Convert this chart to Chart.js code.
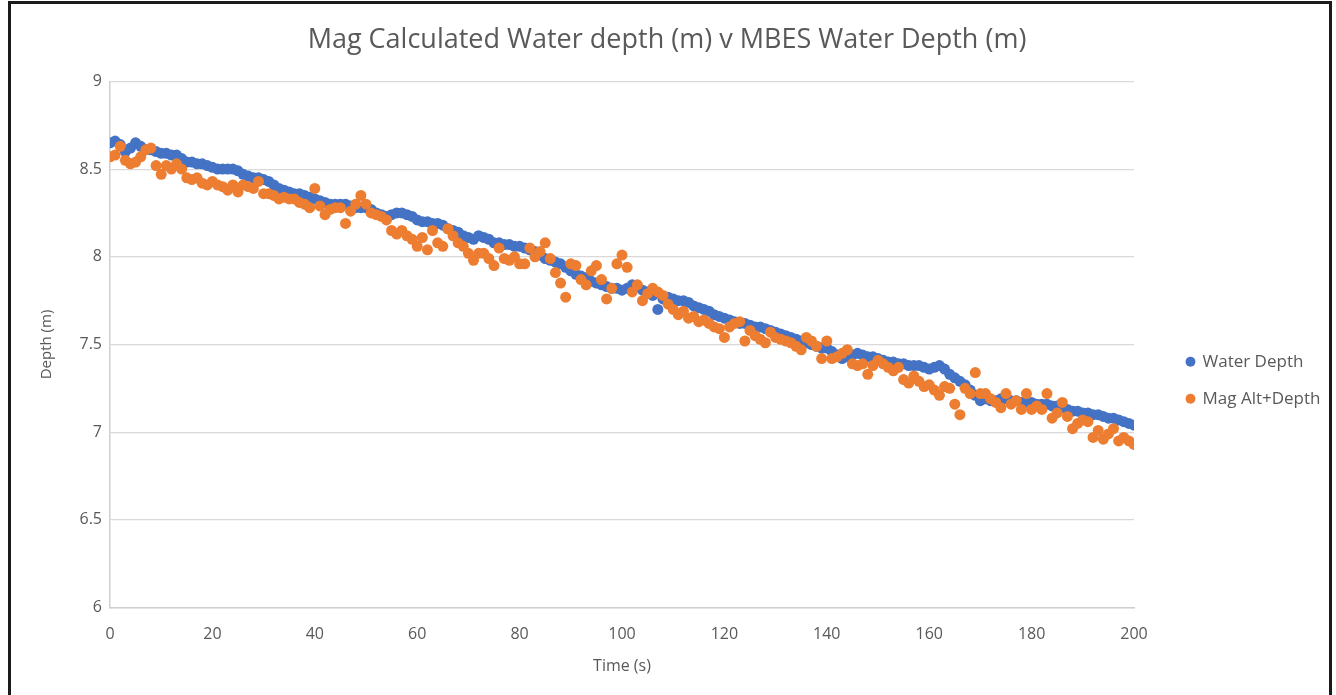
<!DOCTYPE html>
<html>
<head>
<meta charset="utf-8">
<script src="https://cdn.jsdelivr.net/npm/chart.js@4.4.1/dist/chart.umd.min.js"></script>
<style>
  html, body { margin: 0; padding: 0; background: #fff; }
  #wrap { width: 1336px; height: 695px; }
</style>
</head>
<body>
<div id="wrap"><canvas id="chart" width="1336" height="695"></canvas></div>
<script>
// --- Data ---
const chartTitle = 'Mag Calculated Water depth (m) v MBES Water Depth (m)';
const seriesNames = ['Water Depth', 'Mag Alt+Depth'];
const xTicks = [0, 20, 40, 60, 80, 100, 120, 140, 160, 180, 200];
const yTicks = [6, 6.5, 7, 7.5, 8, 8.5, 9];

// one reading per second, t = 0 .. 200
const waterDepth = [
  8.65, 8.66, 8.64, 8.60, 8.62, 8.65, 8.63, 8.61, 8.61, 8.60,
  8.59, 8.59, 8.58, 8.58, 8.56, 8.54, 8.54, 8.53, 8.53, 8.52,
  8.51, 8.50, 8.50, 8.50, 8.50, 8.49, 8.47, 8.46, 8.45, 8.45,
  8.44, 8.43, 8.41, 8.39, 8.38, 8.37, 8.36, 8.36, 8.35, 8.34,
  8.33, 8.32, 8.31, 8.30, 8.30, 8.30, 8.30, 8.29, 8.28, 8.28,
  8.28, 8.27, 8.25, 8.24, 8.23, 8.24, 8.25, 8.25, 8.24, 8.23,
  8.21, 8.20, 8.20, 8.19, 8.19, 8.18, 8.16, 8.15, 8.14, 8.12,
  8.11, 8.10, 8.12, 8.11, 8.10, 8.08, 8.08, 8.07, 8.07, 8.06,
  8.06, 8.05, 8.04, 8.03, 8.01, 7.99, 7.98, 7.97, 7.96, 7.94,
  7.92, 7.90, 7.89, 7.88, 7.86, 7.85, 7.84, 7.83, 7.82, 7.82,
  7.81, 7.82, 7.84, 7.83, 7.81, 7.80, 7.78, 7.70, 7.76, 7.77,
  7.76, 7.75, 7.75, 7.74, 7.72, 7.71, 7.70, 7.69, 7.67, 7.66,
  7.65, 7.64, 7.63, 7.62, 7.62, 7.61, 7.60, 7.60, 7.59, 7.58,
  7.57, 7.56, 7.55, 7.54, 7.53, 7.52, 7.51, 7.50, 7.49, 7.48,
  7.48, 7.46, 7.44, 7.42, 7.43, 7.44, 7.45, 7.44, 7.43, 7.43,
  7.42, 7.41, 7.40, 7.40, 7.39, 7.39, 7.38, 7.38, 7.38, 7.37,
  7.36, 7.37, 7.38, 7.36, 7.33, 7.31, 7.29, 7.27, 7.24, 7.21,
  7.18, 7.19, 7.18, 7.18, 7.19, 7.19, 7.18, 7.18, 7.17, 7.17,
  7.17, 7.16, 7.16, 7.16, 7.15, 7.15, 7.14, 7.13, 7.12, 7.12,
  7.11, 7.11, 7.10, 7.10, 7.09, 7.08, 7.08, 7.07, 7.06, 7.05,
  7.04
];

const magAltDepth = [
  8.57, 8.58, 8.63, 8.55, 8.53, 8.54, 8.57, 8.61, 8.62, 8.52,
  8.47, 8.52, 8.50, 8.53, 8.50, 8.45, 8.44, 8.45, 8.42, 8.41,
  8.43, 8.41, 8.40, 8.38, 8.41, 8.37, 8.41, 8.40, 8.39, 8.43,
  8.36, 8.36, 8.35, 8.33, 8.34, 8.33, 8.33, 8.31, 8.30, 8.28,
  8.39, 8.29, 8.24, 8.27, 8.28, 8.28, 8.19, 8.26, 8.30, 8.35,
  8.30, 8.25, 8.24, 8.23, 8.21, 8.15, 8.13, 8.15, 8.12, 8.10,
  8.06, 8.11, 8.04, 8.15, 8.08, 8.06, 8.16, 8.12, 8.08, 8.06,
  8.02, 7.98, 8.02, 8.02, 7.99, 7.95, 8.05, 7.99, 7.98, 8.00,
  7.96, 7.96, 8.05, 8.00, 8.03, 8.08, 7.99, 7.91, 7.85, 7.77,
  7.96, 7.95, 7.87, 7.84, 7.92, 7.95, 7.87, 7.76, 7.82, 7.96,
  8.01, 7.94, 7.80, 7.84, 7.75, 7.79, 7.82, 7.80, 7.78, 7.73,
  7.70, 7.67, 7.69, 7.65, 7.66, 7.63, 7.64, 7.62, 7.60, 7.59,
  7.54, 7.60, 7.62, 7.63, 7.52, 7.58, 7.55, 7.53, 7.51, 7.57,
  7.54, 7.53, 7.52, 7.51, 7.49, 7.47, 7.54, 7.52, 7.49, 7.42,
  7.52, 7.42, 7.43, 7.45, 7.47, 7.39, 7.38, 7.39, 7.33, 7.38,
  7.41, 7.39, 7.37, 7.35, 7.37, 7.30, 7.28, 7.32, 7.29, 7.26,
  7.27, 7.24, 7.21, 7.26, 7.25, 7.16, 7.10, 7.25, 7.22, 7.34,
  7.22, 7.22, 7.19, 7.17, 7.14, 7.22, 7.16, 7.18, 7.13, 7.22,
  7.13, 7.15, 7.13, 7.22, 7.08, 7.11, 7.17, 7.09, 7.02, 7.05,
  7.07, 7.06, 6.97, 7.01, 6.96, 6.99, 7.02, 6.95, 6.97, 6.95,
  6.93
];

// --- Helpers ---
const toPoints = arr => arr.map((v, i) => ({ x: i, y: v }));
const textGrey = '#595959';
const fontFamily = '"Open Sans", "DejaVu Sans", sans-serif';

// white background + dark frame around the picture
const framePlugin = {
  id: 'frame',
  beforeDraw(chart) {
    const c = chart.ctx;
    c.save();
    c.fillStyle = '#fff';
    c.fillRect(0, 0, chart.width, chart.height);
    c.restore();
  },
  afterDraw(chart) {
    const c = chart.ctx;
    c.save();
    c.strokeStyle = '#1a1a1a';
    c.lineWidth = 3;
    c.beginPath();
    c.moveTo(9.5, chart.height);
    c.lineTo(9.5, 2.5);
    c.lineTo(1330.5, 2.5);
    c.lineTo(1330.5, chart.height);
    c.stroke();
    c.restore();
  }
};

// fixed legend width so the plot ends where the original does,
// then nudge the legend block right a little
const legendPlacePlugin = {
  id: 'legendPlace',
  afterInit(chart) {
    const lg = chart.legend;
    if (!lg) return;
    const fit = lg.fit;
    lg.fit = function () {
      fit.call(this);
      this.width = 190;
    };
  },
  afterLayout(chart) {
    const lg = chart.legend;
    if (!lg) return;
    lg.left += 33;
    lg.right += 33;
  }
};

// --- Chart ---
const ctx = document.getElementById('chart').getContext('2d');
const chart = new Chart(ctx, {
  type: 'scatter',
  data: {
    datasets: [
      {
        label: seriesNames[0],
        data: toPoints(waterDepth),
        backgroundColor: '#4472C4',
        borderColor: '#4472C4',
        pointRadius: 5.5,
        pointBorderWidth: 0,
        order: 2
      },
      {
        label: seriesNames[1],
        data: toPoints(magAltDepth),
        backgroundColor: '#ED7D31',
        borderColor: '#ED7D31',
        pointRadius: 5.5,
        pointBorderWidth: 0,
        order: 1
      }
    ]
  },
  options: {
    responsive: false,
    animation: false,
    layout: { padding: { left: 10, right: 12, top: 10, bottom: 19 } },
    plugins: {
      title: {
        display: true,
        text: chartTitle,
        color: textGrey,
        font: { family: fontFamily, size: 27, weight: 'normal' },
        padding: { top: 14, bottom: 25 }
      },
      legend: {
        position: 'right',
        title: { display: true, text: '', padding: 30 },
        labels: {
          sort: (a, b) => a.datasetIndex - b.datasetIndex,
          usePointStyle: true,
          pointStyle: 'circle',
          boxWidth: 7,
          boxHeight: 7,
          padding: 20,
          color: textGrey,
          font: { family: fontFamily, size: 17 }
        }
      },
      tooltip: { enabled: false }
    },
    scales: {
      x: {
        type: 'linear',
        min: xTicks[0],
        max: xTicks[xTicks.length - 1],
        afterBuildTicks: s => { s.ticks = xTicks.map(v => ({ value: v })); },
        grid: { display: false, drawTicks: false },
        border: { display: true, color: '#d0d0d0', width: 1.5 },
        ticks: { color: textGrey, padding: 17, maxRotation: 0, font: { family: fontFamily, size: 16 } },
        title: {
          display: true,
          text: 'Time (s)',
          color: textGrey,
          font: { family: fontFamily, size: 16 },
          padding: { top: -4, bottom: 0 }
        }
      },
      y: {
        type: 'linear',
        min: yTicks[0],
        max: yTicks[yTicks.length - 1],
        afterBuildTicks: s => { s.ticks = yTicks.map(v => ({ value: v })); },
        afterFit: s => { s.width = 100; },
        grid: { color: '#d9d9d9', lineWidth: 1.2, drawTicks: false },
        border: { display: true, color: '#d0d0d0', width: 1.5 },
        ticks: {
          color: textGrey,
          padding: 8,
          font: { family: fontFamily, size: 16 },
          callback: v => String(v)
        },
        title: {
          display: true,
          text: 'Depth (m)',
          color: textGrey,
          font: { family: fontFamily, size: 15 },
          padding: { top: 28, bottom: 4 }
        }
      }
    }
  },
  plugins: [framePlugin, legendPlacePlugin]
});
</script>
</body>
</html>
